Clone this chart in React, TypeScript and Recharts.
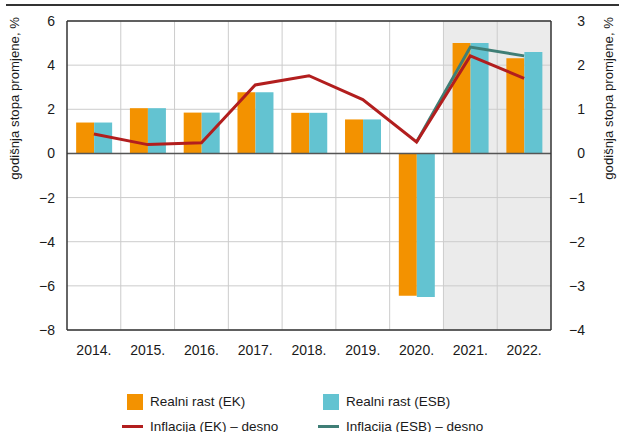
import {
  ComposedChart, Bar, Line, XAxis, YAxis, CartesianGrid, ReferenceArea, ReferenceLine,
} from 'recharts';

const years = ['2014.', '2015.', '2016.', '2017.', '2018.', '2019.', '2020.', '2021.', '2022.'];
const realEK = [1.4, 2.05, 1.85, 2.77, 1.84, 1.54, -6.45, 5.0, 4.31];
const realESB = [1.4, 2.05, 1.85, 2.77, 1.84, 1.54, -6.5, 5.0, 4.6];
const inflEK = [0.44, 0.2, 0.24, 1.55, 1.76, 1.22, 0.26, 2.21, 1.7];
const inflESB = [null, null, null, null, null, null, 0.26, 2.41, 2.21];
const leftTicks = [-8, -6, -4, -2, 0, 2, 4, 6];
const rightTicks = [-4, -3, -2, -1, 0, 1, 2, 3];

const FONT = '"Liberation Sans", Arial, sans-serif';
const ORANGE = '#f39200';
const CYAN = '#63c3d1';
const RED = '#b21e1e';
const TEAL = '#3f7e76';
const AXIS = '#333';

const data = years.map((y, i) => ({
  year: y, realEK: realEK[i], realESB: realESB[i], inflEK: inflEK[i], inflESB: inflESB[i],
}));

const tick = { fontSize: 14, fill: '#1a1a1a', fontFamily: FONT };
const minus = (v: number) => String(v).replace('-', '\u2212');

function LegendItem({ color, line, text }: { color: string; line?: boolean; text: string }) {
  return (
    <div style={{ display: 'flex', alignItems: 'center', height: 25 }}>
      {line
        ? <div style={{ width: 21, height: 3, background: color, marginLeft: -5, marginRight: 7 }} />
        : <div style={{ width: 16, height: 16, background: color, marginRight: 7 }} />}
      <span style={{ fontSize: 13.5, fontFamily: FONT, color: '#1a1a1a' }}>{text}</span>
    </div>
  );
}

export default function App() {
  return (
    <div style={{ position: 'absolute', left: 0, top: 0, width: 619, height: 432, background: '#fff', overflow: 'hidden' }}>
      <div style={{ position: 'absolute', left: 6, top: 4, width: 613, height: 1.5, background: AXIS }} />
      <ComposedChart
        width={619}
        height={365}
        data={data}
        margin={{ top: 21, right: 8, bottom: 5, left: 8 }}
        barCategoryGap="17%"
        barGap={0}
        style={{ position: 'absolute', left: 0, top: 0 }}
      >
        <ReferenceArea yAxisId="l" x1="2021." x2="2022." fill="#ebebeb" fillOpacity={1} stroke="none" zIndex={-200} />
        <CartesianGrid
          stroke="#cccccc"
          yAxisId="l"
          verticalCoordinatesGenerator={({ offset }: any) =>
            years.slice(1).map((_, i) => offset.left + ((i + 1) * offset.width) / years.length)}
        />
        <XAxis dataKey="year" tick={tick} tickLine={false} tickSize={0} tickMargin={15} axisLine={{ stroke: AXIS, strokeWidth: 1.5 }} height={30} interval={0} />
        <YAxis yAxisId="l" domain={[-8, 6]} ticks={leftTicks} tick={tick} tickLine={false} tickSize={0} tickMargin={12} width={59}
          axisLine={{ stroke: AXIS, strokeWidth: 1.5 }} tickFormatter={minus} />
        <YAxis yAxisId="r" orientation="right" domain={[-4, 3]} ticks={rightTicks} tickLine={false} tickSize={0} tickMargin={34} width={60}
          tick={{ ...tick, textAnchor: 'end' }}
          axisLine={{ stroke: AXIS, strokeWidth: 1.5 }} tickFormatter={minus} />
        <ReferenceLine yAxisId="l" y={6} stroke={AXIS} strokeWidth={1.5} />
        <Bar yAxisId="l" dataKey="realEK" fill={ORANGE} isAnimationActive={false} />
        <Bar yAxisId="l" dataKey="realESB" fill={CYAN} isAnimationActive={false} />
        <ReferenceLine yAxisId="l" y={0} stroke="#555" strokeWidth={1.5} />
        <Line yAxisId="r" dataKey="inflESB" stroke={TEAL} strokeWidth={3} dot={false} isAnimationActive={false} connectNulls={false} />
        <Line yAxisId="r" dataKey="inflEK" stroke={RED} strokeWidth={3} dot={false} isAnimationActive={false} />
      </ComposedChart>
      <svg width={619} height={432} style={{ position: 'absolute', left: 0, top: 0, pointerEvents: 'none' }}>
        <text transform="rotate(-90)" x={-17} y={19} textAnchor="end" fontSize={13.2} fontFamily={FONT} fill="#1a1a1a">
          godišnja stopa promjene, %
        </text>
        <text transform="rotate(-90)" x={-17} y={613} textAnchor="end" fontSize={13.2} fontFamily={FONT} fill="#1a1a1a">
          godišnja stopa promjene, %
        </text>
      </svg>
      <div style={{ position: 'absolute', left: 127, top: 389, display: 'grid', gridTemplateColumns: '196px 220px' }}>
        <LegendItem color={ORANGE} text="Realni rast (EK)" />
        <LegendItem color={CYAN} text="Realni rast (ESB)" />
        <LegendItem color={RED} line text="Inflacija (EK) – desno" />
        <LegendItem color={TEAL} line text="Inflacija (ESB) – desno" />
      </div>
    </div>
  );
}
